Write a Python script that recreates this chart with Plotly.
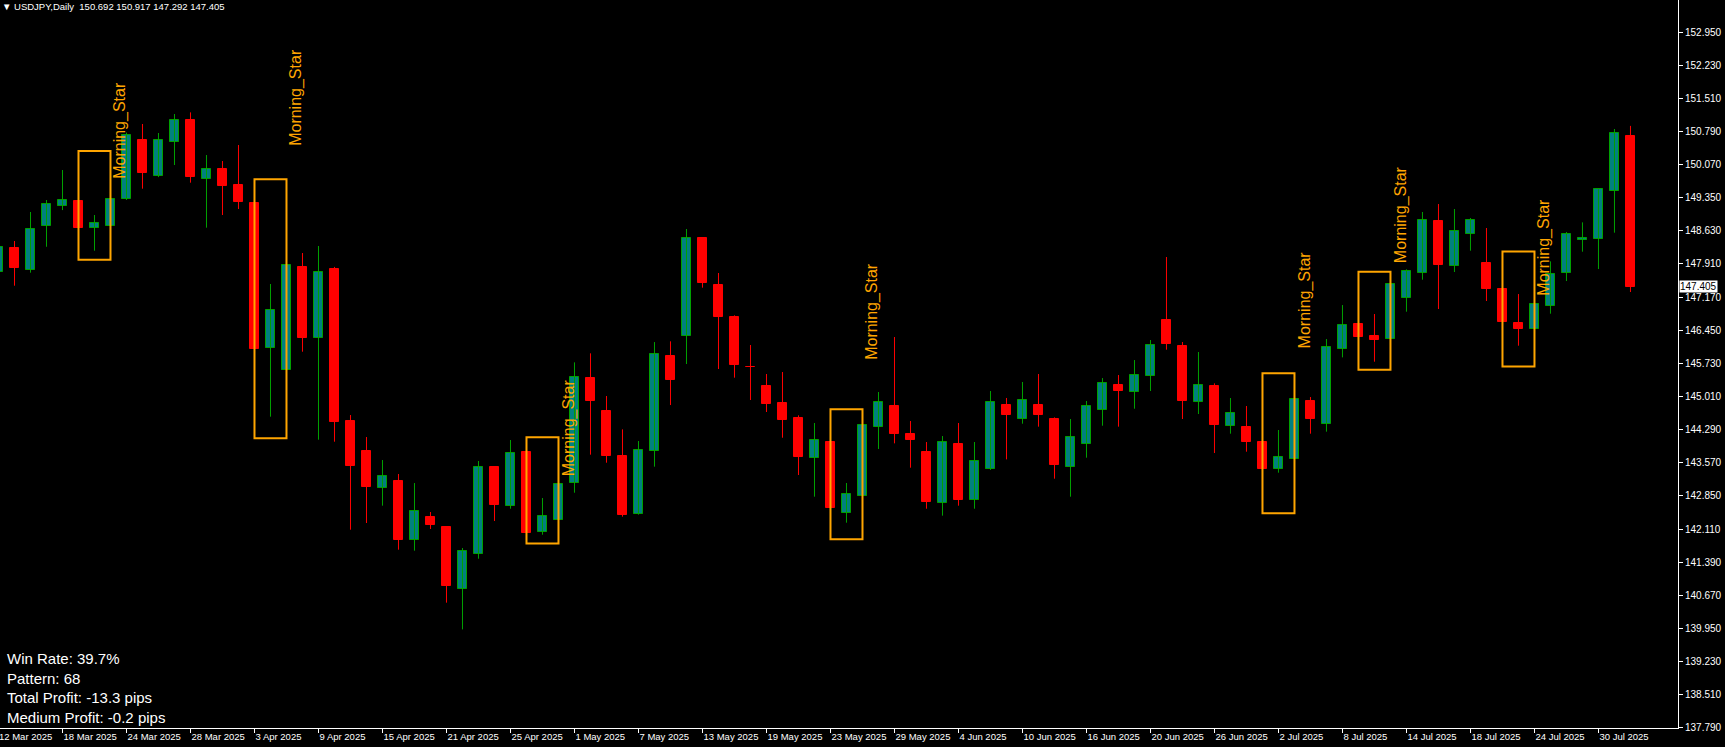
import plotly.graph_objects as go
import pandas as pd

# ---------------- data ----------------
dates = pd.bdate_range("2025-03-12", "2025-08-01")
cats = [d.strftime("%Y-%m-%d") for d in dates]

open_ = [147.735, 148.252, 147.780, 148.740, 149.176, 149.278, 148.681, 148.740, 149.329, 150.602,
         149.830, 150.572, 151.038, 149.765, 149.969, 149.620, 149.234, 146.078, 145.597, 147.830,
         146.296, 147.787, 144.470, 143.815, 143.008, 143.161, 141.874, 142.375, 142.164, 140.804,
         141.568, 143.466, 142.630, 143.801, 142.048, 142.310, 143.117, 145.408, 144.688, 143.706,
         142.455, 143.815, 145.896, 146.339, 148.470, 147.445, 146.746, 145.655, 145.241, 144.870,
         144.543, 143.677, 144.019, 142.463, 142.848, 144.339, 144.805, 144.194, 143.801, 142.681,
         143.976, 142.746, 143.423, 144.827, 144.514, 144.827, 144.521, 143.467, 143.968, 144.710,
         145.255, 145.117, 145.466, 146.681, 146.114, 144.899, 145.241, 144.375, 144.346, 144.019,
         143.423, 143.641, 144.906, 144.405, 146.041, 146.594, 146.332, 146.259, 147.154, 147.700,
         148.834, 147.852, 148.550, 147.918, 147.351, 146.609, 146.478, 146.994, 147.714, 148.420,
         148.441, 149.489, 150.692]
high = [148.450, 148.405, 149.038, 149.300, 149.954, 150.172, 148.972, 149.700, 150.770, 150.958,
        150.762, 151.176, 151.212, 150.281, 150.150, 150.500, 149.280, 147.467, 148.172, 148.143,
        148.296, 147.840, 144.608, 144.128, 143.626, 143.321, 143.124, 142.492, 142.170, 141.706,
        143.605, 143.470, 144.063, 143.932, 142.797, 143.241, 145.757, 145.954, 145.023, 144.295,
        144.041, 146.200, 146.216, 148.667, 148.480, 147.707, 146.783, 146.136, 145.503, 145.546,
        144.601, 144.434, 144.100, 143.125, 144.500, 145.110, 146.310, 144.477, 144.019, 144.150,
        144.434, 144.019, 145.132, 144.980, 145.329, 145.503, 144.557, 144.521, 144.914, 145.415,
        145.481, 145.808, 146.245, 148.056, 146.201, 145.983, 145.299, 144.979, 144.805, 144.085,
        144.281, 145.263, 145.001, 146.266, 147.008, 147.212, 146.812, 147.554, 147.787, 149.038,
        149.212, 149.103, 148.907, 148.689, 147.968, 147.248, 147.037, 147.961, 148.601, 148.812,
        149.535, 150.849, 150.917]
low = [147.450, 147.430, 147.714, 148.280, 149.080, 148.609, 148.194, 148.587, 149.300, 149.547,
       149.800, 150.063, 149.678, 148.696, 148.972, 149.103, 145.213, 144.572, 144.826, 145.990,
       144.070, 144.026, 142.106, 142.252, 142.630, 141.670, 141.648, 142.121, 140.514, 139.931,
       141.473, 142.295, 142.564, 142.030, 141.997, 142.193, 142.913, 143.743, 143.568, 142.390,
       142.434, 143.481, 144.826, 145.721, 147.387, 145.612, 145.423, 144.936, 144.674, 144.113,
       143.299, 142.826, 142.463, 142.259, 142.135, 143.867, 143.990, 143.459, 142.564, 142.412,
       142.630, 142.564, 143.410, 143.640, 144.419, 144.354, 143.219, 142.826, 143.677, 144.375,
       144.354, 144.746, 145.132, 146.034, 144.521, 144.630, 143.779, 144.201, 143.808, 142.717,
       143.350, 143.481, 144.201, 144.245, 145.866, 146.259, 145.772, 146.136, 146.863, 147.561,
       146.921, 147.729, 148.194, 147.096, 146.317, 146.121, 145.874, 146.819, 147.532, 148.172,
       147.794, 148.587, 147.292]
close = [148.280, 147.823, 148.660, 149.205, 149.293, 148.696, 148.790, 149.314, 150.711, 149.896,
         150.602, 151.038, 149.809, 149.969, 149.612, 149.263, 146.056, 146.893, 147.874, 146.296,
         147.721, 144.463, 143.503, 143.044, 143.284, 141.888, 142.506, 142.201, 140.884, 141.634,
         143.466, 142.644, 143.772, 142.033, 142.397, 143.095, 145.430, 144.921, 143.721, 142.434,
         143.837, 145.932, 145.379, 148.463, 147.496, 146.746, 145.699, 145.648, 144.855, 144.506,
         143.699, 144.055, 142.586, 142.877, 144.383, 144.885, 144.201, 144.070, 142.717, 144.012,
         142.761, 143.597, 144.885, 144.616, 144.929, 144.616, 143.525, 144.121, 144.797, 145.299,
         145.139, 145.474, 146.128, 146.165, 144.914, 145.255, 144.397, 144.645, 144.026, 143.437,
         143.685, 144.950, 144.528, 146.085, 146.565, 146.310, 146.252, 147.459, 147.743, 148.856,
         147.874, 148.616, 148.856, 147.351, 146.645, 146.492, 147.023, 147.678, 148.551, 148.470,
         149.532, 150.754, 147.405]

date_tick_labels = ["12 Mar 2025", "18 Mar 2025", "24 Mar 2025", "28 Mar 2025", "3 Apr 2025",
                    "9 Apr 2025", "15 Apr 2025", "21 Apr 2025", "25 Apr 2025", "1 May 2025",
                    "7 May 2025", "13 May 2025", "19 May 2025", "23 May 2025", "29 May 2025",
                    "4 Jun 2025", "10 Jun 2025", "16 Jun 2025", "20 Jun 2025", "26 Jun 2025",
                    "2 Jul 2025", "8 Jul 2025", "14 Jul 2025", "18 Jul 2025", "24 Jul 2025",
                    "30 Jul 2025"]
price_tick_labels = ["152.950", "152.230", "151.510", "150.790", "150.070", "149.350", "148.630",
                     "147.910", "147.170", "146.450", "145.730", "145.010", "144.290", "143.570",
                     "142.850", "142.110", "141.390", "140.670", "139.950", "139.230", "138.510",
                     "137.790"]

pattern_starts = [5, 16, 33, 52, 79, 85, 94]
pattern_label_prices = [149.74, 150.46, 143.25, 145.79, 146.04, 147.90, 147.19]
pattern_name = "Morning_Star"

stats_lines = ["Win Rate: 39.7%", "Pattern: 68", "Total Profit: -13.3 pips", "Medium Profit: -0.2 pips"]
symbol_title = "USDJPY,Daily"

# ---------------- styles ----------------
BULL_FILL = "#008080"
BULL_LINE = "#00a000"
BEAR = "#ff0000"
ORANGE = "#ffa500"
FG = "#ffffff"
FONT = "Liberation Sans"

fig = go.Figure()

# wicks
for bull, col in ((True, BULL_LINE), (False, BEAR)):
    wx, wy = [], []
    for i in range(len(cats)):
        if (close[i] >= open_[i]) == bull:
            wx += [cats[i], cats[i], None]
            wy += [low[i], high[i], None]
    fig.add_trace(go.Scatter(x=wx, y=wy, mode="lines", line=dict(color=col, width=1),
                             hoverinfo="skip", showlegend=False))

# bodies
bases = [min(o, c) for o, c in zip(open_, close)]
heights = [max(abs(c - o), 0.012) for o, c in zip(open_, close)]
fills = [BULL_FILL if c >= o else BEAR for o, c in zip(open_, close)]
outlines = [BULL_LINE if c >= o else BEAR for o, c in zip(open_, close)]
fig.add_trace(go.Bar(x=cats, y=heights, base=bases, width=0.6,
                     marker=dict(color=fills, line=dict(color=outlines, width=1)),
                     hoverinfo="skip", showlegend=False))

# pattern boxes and labels
shapes = []
annotations = []
for s, lp in zip(pattern_starts, pattern_label_prices):
    hi = max(high[s:s + 3])
    lo = min(low[s:s + 3])
    pad = 0.1 * (hi - lo)
    shapes.append(dict(type="rect", xref="x", yref="y", x0=cats[s], x1=cats[s + 2],
                       y0=lo - pad, y1=hi + pad, line=dict(color=ORANGE, width=2),
                       fillcolor="rgba(0,0,0,0)", layer="above"))
    annotations.append(dict(x=cats[s + 2], y=lp, xref="x", yref="y", text=pattern_name,
                            textangle=-90, xanchor="left", yanchor="bottom", showarrow=False,
                            font=dict(family=FONT, size=16, color=ORANGE), borderpad=0))

header = ("\u25BC " + symbol_title + "\u00a0\u00a0" +
          " ".join(f"{v:.3f}" for v in (open_[-1], high[-1], low[-1], close[-1])))
annotations.append(dict(x=0, y=1, xref="paper", yref="paper", xanchor="left", yanchor="top",
                        xshift=1, yshift=0, text=header, showarrow=False,
                        font=dict(family=FONT, size=9.5, color=FG), borderpad=0))
annotations.append(dict(x=0, y=0, xref="paper", yref="paper", xanchor="left", yanchor="bottom",
                        xshift=6, yshift=1, text="<br>".join(stats_lines), align="left",
                        showarrow=False, font=dict(family=FONT, size=15, color=FG), borderpad=0))
annotations.append(dict(x=1, y=close[-1], xref="paper", yref="y", xanchor="left", yanchor="middle",
                        xshift=1, text=f"{close[-1]:.3f}", showarrow=False, bgcolor="#ffffff",
                        font=dict(family=FONT, size=10, color="#000000"), borderpad=0))
# first date label (its tick sits just left of the visible area, so the axis cannot show it)
annotations.append(dict(x=0, y=0, xref="paper", yref="paper", xanchor="left", yanchor="top",
                        xshift=-2, yshift=-2, text=date_tick_labels[0], showarrow=False,
                        font=dict(family=FONT, size=9.5, color=FG), borderpad=0))

fig.update_layout(
    width=1725, height=747,
    margin=dict(l=0, r=47, t=0, b=19, pad=0),
    paper_bgcolor="#000000", plot_bgcolor="#000000",
    showlegend=False, hovermode=False, bargap=0,
    shapes=shapes, annotations=annotations,
    xaxis=dict(type="category", categoryorder="array", categoryarray=cats,
               range=[0.094, 104.97], tickvals=cats[::4],
               ticktext=date_tick_labels, ticks="outside", ticklen=4, tickcolor=FG,
               ticklabelposition="outside right",
               showline=True, linecolor=FG, linewidth=1, showgrid=False, zeroline=False,
               tickfont=dict(family=FONT, size=9.5, color=FG), automargin=False, fixedrange=True),
    yaxis=dict(side="right", range=[137.779, 153.664],
               tickvals=[float(t) for t in price_tick_labels], ticktext=price_tick_labels,
               ticks="outside", ticklen=4, tickcolor=FG, showline=True, linecolor=FG,
               linewidth=1, showgrid=False, zeroline=False,
               tickfont=dict(family=FONT, size=10, color=FG), automargin=False, fixedrange=True),
)

fig.write_html("out.html", config={"displayModeBar": False},
               post_script="document.body.style.margin='0';document.body.style.background='#000';")
